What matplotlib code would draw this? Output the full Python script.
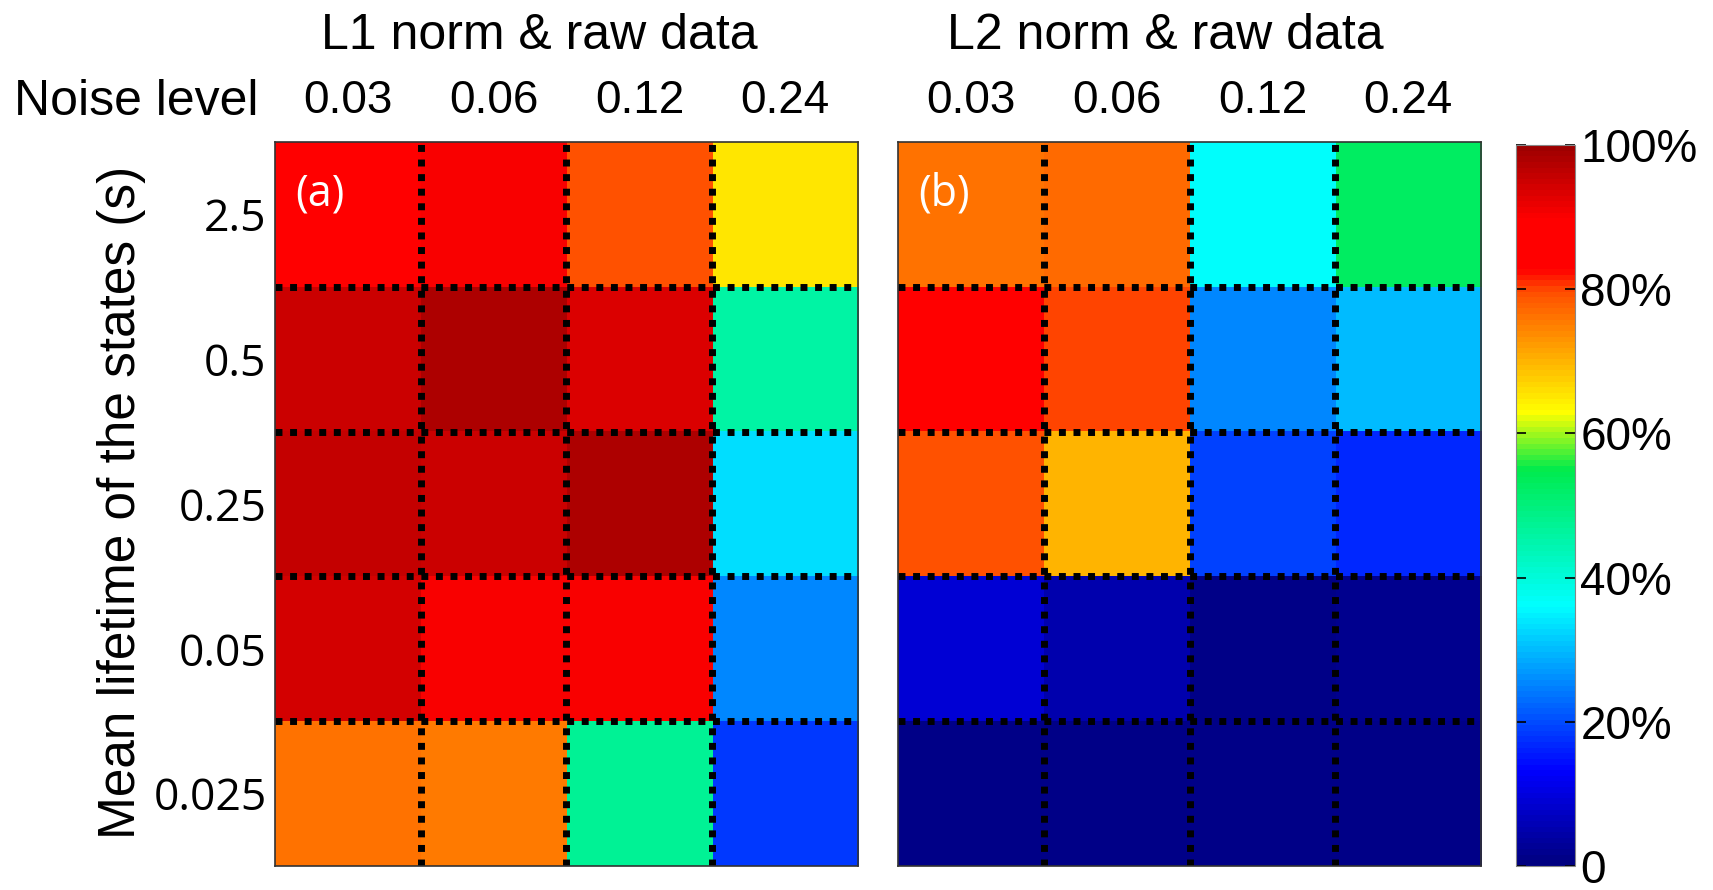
import numpy as np
import matplotlib
matplotlib.use("Agg")
import matplotlib.pyplot as plt
from matplotlib.colors import LinearSegmentedColormap

noise_levels = ["0.03", "0.06", "0.12", "0.24"]
lifetimes = ["2.5", "0.5", "0.25", "0.05", "0.025"]

# success rate (%), rows = lifetimes (top to bottom), cols = noise levels
l1_raw = [
    [88, 90, 79, 65],
    [95, 98, 93, 46],
    [96, 95, 98, 33],
    [94, 90, 90, 25],
    [76, 75, 47, 18],
]
l2_raw = [
    [76, 77, 36, 53],
    [88, 80, 25, 30],
    [79, 70, 19, 17],
    [9, 5, 1, 2],
    [1, 1, 1, 1],
]

cbar_ticks = [0, 20, 40, 60, 80, 100]
cbar_labels = ["0", "20%", "40%", "60%", "80%", "100%"]

# jet-like map with a wide red band near the top
cmap = LinearSegmentedColormap.from_list("succ", [
    (0.00, (0.0, 0.0, 0.5)),
    (0.13, (0.0, 0.0, 1.0)),
    (0.36, (0.0, 1.0, 1.0)),
    (0.55, (0.0, 0.92, 0.3)),
    (0.63, (1.0, 1.0, 0.0)),
    (0.80, (1.0, 0.3, 0.0)),
    (0.83, (1.0, 0.0, 0.0)),
    (0.90, (1.0, 0.0, 0.0)),
    (1.00, (0.62, 0.0, 0.0)),
], N=128)

plt.rcParams["font.family"] = ["Liberation Sans", "DejaVu Sans"]

fig = plt.figure(figsize=(17.13, 8.90), dpi=100)
ax_a = fig.add_axes([0.1605, 0.027, 0.3404, 0.8134])
ax_b = fig.add_axes([0.5242, 0.027, 0.3404, 0.8134])
cax = fig.add_axes([0.885, 0.027, 0.0344, 0.810])

for ax, data, tag in [(ax_a, l1_raw, "(a)"), (ax_b, l2_raw, "(b)")]:
    im = ax.imshow(np.array(data), cmap=cmap, vmin=0, vmax=100,
                   aspect="auto", interpolation="nearest")
    for x in np.arange(0.5, len(noise_levels) - 1, 1.0):
        ax.axvline(x, color="black", lw=5, ls=(0, (1, 1.1)))
    for y in np.arange(0.5, len(lifetimes) - 1, 1.0):
        ax.axhline(y, color="black", lw=5, ls=(0, (1, 1.1)))
    ax.xaxis.tick_top()
    ax.set_xticks(range(len(noise_levels)))
    ax.set_xticklabels(noise_levels, fontsize=33)
    ax.tick_params(axis="x", length=0, pad=14)
    ax.set_yticks(range(len(lifetimes)))
    ax.tick_params(axis="y", length=0, pad=6)
    for s in ax.spines.values():
        s.set_color("#333333")
        s.set_linewidth(1.2)
    ax.text(0.034, 0.928, tag, transform=ax.transAxes, color="white",
            fontsize=31, family="Open Sans", va="center", ha="left")

ax_a.set_yticklabels(lifetimes, fontsize=32, family="Open Sans")
ax_b.set_yticklabels([])

cb = fig.colorbar(im, cax=cax, ticks=cbar_ticks)
cb.ax.set_yticklabels(cbar_labels, fontsize=33)
cb.ax.tick_params(direction="in", left=True, right=True, length=7,
                  width=1.2, pad=4)
cb.outline.set_edgecolor("#888888")

fig.text(0.3147, 0.96, "L1 norm & raw data", fontsize=36, ha="center", va="center")
fig.text(0.680, 0.96, "L2 norm & raw data", fontsize=36, ha="center", va="center")
fig.text(0.151, 0.885, "Noise level", fontsize=36, ha="right", va="center")
fig.text(0.0712, 0.435, "Mean lifetime of the states (s)", fontsize=37,
         rotation=90, ha="center", va="center")

fig.savefig("out.png", dpi=100)
plt.close(fig)
